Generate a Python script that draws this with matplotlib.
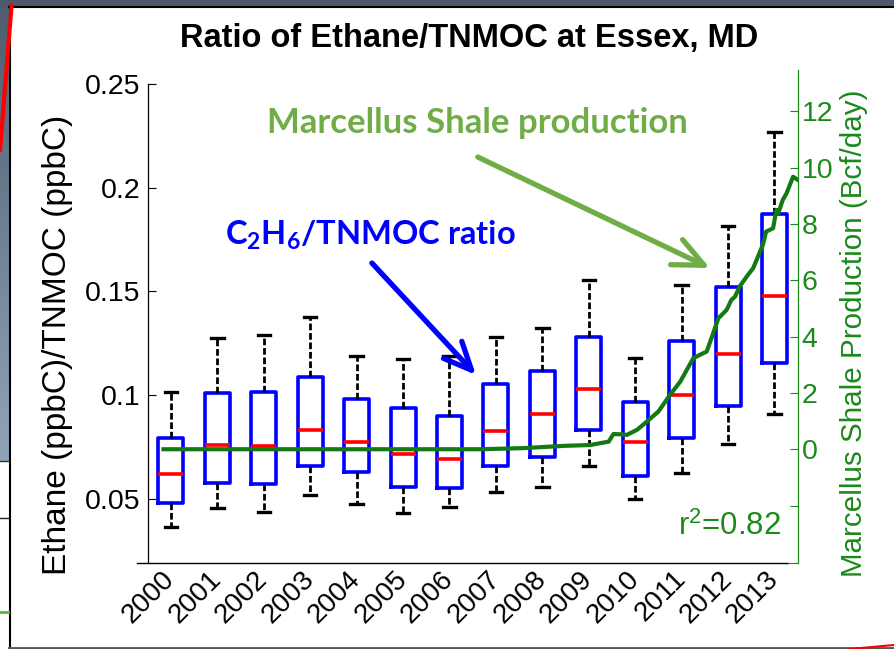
import matplotlib
matplotlib.use("Agg")
import matplotlib.pyplot as plt
from matplotlib.colors import LinearSegmentedColormap
from matplotlib.patches import Rectangle
import numpy as np

#######################################
#### Data
#######################################
years = [2000, 2001, 2002, 2003, 2004, 2005, 2006,
         2007, 2008, 2009, 2010, 2011, 2012, 2013]
year_labels = [str(y) for y in years]

# ethane / TNMOC ratio box statistics per year
whis_hi = [0.1014, 0.1278, 0.1289, 0.1379, 0.1191, 0.1175, 0.1189,
           0.1282, 0.1323, 0.1555, 0.1178, 0.1531, 0.1816, 0.2267]
q3      = [0.0793, 0.1012, 0.1017, 0.1087, 0.0980, 0.0937, 0.0900,
           0.1054, 0.1117, 0.1279, 0.0969, 0.1263, 0.1523, 0.1873]
med     = [0.0620, 0.0762, 0.0755, 0.0834, 0.0776, 0.0718, 0.0694,
           0.0826, 0.0908, 0.1030, 0.0776, 0.1001, 0.1199, 0.1478]
q1      = [0.0479, 0.0576, 0.0571, 0.0659, 0.0632, 0.0556, 0.0555,
           0.0659, 0.0704, 0.0833, 0.0611, 0.0793, 0.0948, 0.1154]
whis_lo = [0.0367, 0.0455, 0.0439, 0.0518, 0.0476, 0.0431, 0.0463,
           0.0534, 0.0559, 0.0659, 0.0500, 0.0624, 0.0764, 0.0910]

# Marcellus shale gas production (Bcf/day)
prod_year = [1999.84, 2001.0, 2002.0, 2003.0, 2004.0, 2005.0, 2006.0, 2006.67,
             2007.6, 2008.46, 2009.03, 2009.43, 2009.53, 2009.68, 2009.82,
             2010.04, 2010.25, 2010.5, 2010.75, 2010.97, 2011.25, 2011.39,
             2011.54, 2011.68, 2011.79, 2011.97, 2012.07, 2012.15, 2012.25,
             2012.4, 2012.54, 2012.75, 2012.82, 2012.97, 2013.04, 2013.08,
             2013.18, 2013.26, 2013.4, 2013.5]
prod_bcf = [0, 0, 0, 0, 0, 0, 0, 0,
            0.04, 0.12, 0.15, 0.27, 0.54, 0.53, 0.51,
            0.69, 0.98, 1.34, 1.93, 2.4, 3.23, 3.35,
            3.47, 4.12, 4.65, 4.95, 5.3, 5.42, 5.78,
            6.13, 6.43, 7.26, 7.73, 7.85, 8.5, 8.38,
            8.86, 9.09, 9.68, 9.57]

left_ticks = [0.05, 0.1, 0.15, 0.2, 0.25]
left_tick_labels = ['0.05', '0.1', '0.15', '0.2', '0.25']
right_ticks = [-2, 0, 2, 4, 6, 8, 10, 12]
right_tick_labels = ['', '0', '2', '4', '6', '8', '10', '12']

#######################################
#### Style
#######################################
plt.rcParams['font.family'] = 'Liberation Sans'
plt.rcParams['mathtext.fontset'] = 'custom'
plt.rcParams['mathtext.rm'] = 'Lato:bold'
plt.rcParams['mathtext.it'] = 'Lato:bold'
plt.rcParams['mathtext.bf'] = 'Lato:bold'
plt.rcParams['mathtext.sf'] = 'Liberation Sans'

W, H = 894, 649
green_ax = '#1a8a1a'
green_line = '#137a13'
office_green = '#70AD47'

fig = plt.figure(figsize=(W / 100, H / 100), dpi=100)

#### slide frame around the chart
bg = fig.add_axes([0, 0, 1, 1], zorder=-10)
cmap = LinearSegmentedColormap.from_list('strip', ['#4d5c6f', '#90a4b9'])
bg.imshow(np.linspace(0, 1, 100)[:, None], extent=(0, 9, 461, 0),
          cmap=cmap, aspect='auto')
bg.add_patch(Rectangle((0, 0), W, 5.5, color='#4b596b'))
bg.plot([9, W], [6.5, 6.5], color='black', lw=1.5)
bg.plot([9.5, 9.5], [6, H], color='black', lw=1.5)
bg.plot([0, 9], [461, 461], color='#333333', lw=1)
bg.plot([0, 8], [518, 518], color='#222222', lw=1)
bg.plot([0, 8], [612, 612], color='#5cb82e', lw=2)
bg.plot([11.5, 0], [6, 150], color='red', lw=3)
bg.plot([9, W], [648, 648], color='#555555', lw=2)
bg.plot([850, W], [649, 645], color='red', lw=1.5)
bg.set_xlim(0, W)
bg.set_ylim(H, 0)
bg.axis('off')

#######################################
#### Box plot (left axis)
#######################################
x0, x1 = 147.7, 797.7
ybot, ytop_l, ytop_r = 562.7, 84, 70
ax = fig.add_axes([x0 / W, 1 - ybot / H, (x1 - x0) / W, (ybot - ytop_l) / H])
ax.patch.set_visible(False)

stats = []
for i in range(len(years)):
   stats.append(dict(med=med[i], q1=q1[i], q3=q3[i],
                     whislo=whis_lo[i], whishi=whis_hi[i]))
ax.bxp(stats, positions=years, widths=0.54, showfliers=False,
       capwidths=0.27,
       boxprops=dict(color='blue', lw=2.6),
       medianprops=dict(color='red', lw=2.6, solid_capstyle='butt'),
       whiskerprops=dict(color='black', lw=2.0, linestyle=(0, (2.4, 1.0))),
       capprops=dict(color='black', lw=2.4))

ax.set_xlim(1999.5, 2013.5)
ax.set_ylim(0.0193, 0.25)
ax.set_yticks(left_ticks)
ax.set_yticklabels(left_tick_labels)
ax.set_xticks(years)
ax.set_xticklabels(year_labels, rotation=45, ha='right', va='center',
                   rotation_mode='anchor')
ax.tick_params(axis='y', direction='in', length=5.5, width=0.8,
               labelsize=20.5, pad=5)
ax.tick_params(axis='x', length=0, labelsize=20, pad=9)
for s in ['top', 'right']:
   ax.spines[s].set_visible(False)
ax.spines['left'].set_linewidth(0.9)
ax.spines['bottom'].set_linewidth(1.0)
ax.spines['bottom'].set_bounds(1999.276, 2013.29)

#######################################
#### Production (right axis)
#######################################
ax2 = fig.add_axes([x0 / W, 1 - ybot / H, (x1 - x0) / W, (ybot - ytop_r) / H])
ax2.patch.set_visible(False)
ax2.plot(prod_year, prod_bcf, color=green_line, lw=3, solid_joinstyle='round')
ax2.set_xlim(1999.5, 2013.5)
ax2.set_ylim(-4.03, 13.47)
ax2.yaxis.tick_right()
ax2.set_yticks(right_ticks)
ax2.set_yticklabels(right_tick_labels)
ax2.set_xticks([])
ax2.tick_params(axis='y', direction='in', length=5.5, width=0.8,
                labelsize=20.5, pad=3, colors=green_ax)
for s in ['top', 'left']:
   ax2.spines[s].set_visible(False)
ax2.spines['right'].set_color(green_ax)
ax2.spines['right'].set_linewidth(0.9)
ax2.spines['bottom'].set_color(green_ax)
ax2.spines['bottom'].set_bounds(2013.29, 2013.5)

#######################################
#### Labels and annotations
#######################################
fig.text(469 / W, 1 - 46.7 / H, 'Ratio of Ethane/TNMOC at Essex, MD',
         ha='center', va='baseline', fontsize=23.5, fontweight='bold')
fig.text(57.5 / W, 1 - 345 / H, 'Ethane (ppbC)/TNMOC (ppbC)', rotation=90,
         ha='center', va='center', fontsize=24)
fig.text(854 / W, 1 - 333 / H, 'Marcellus Shale Production (Bcf/day)',
         rotation=90, ha='center', va='center', fontsize=21.3, color=green_ax)
fig.text(781.7 / W, 1 - 535 / H, r'r$^\mathsf{2}$=0.82', ha='right',
         va='baseline', fontsize=22.5, color=green_ax)

fig.text(267 / W, 1 - 133 / H, 'Marcellus Shale production',
         ha='left', va='baseline', fontsize=25, fontweight='bold',
         family='Lato', color=office_green)
fig.text(225 / W, 1 - 245 / H, 'C$_2$H$_6$/TNMOC ratio',
         ha='left', va='baseline', fontsize=23.5, fontweight='bold',
         family='Lato', color='blue')

ax.annotate('', xy=(2011.61, 0.1613), xytext=(2006.61, 0.2148),
            annotation_clip=False,
            arrowprops=dict(arrowstyle='->,head_length=1.1,head_width=0.5',
                            color=office_green, lw=3.8, mutation_scale=20,
                            shrinkA=0, shrinkB=0))
ax.annotate('', xy=(2006.57, 0.1098), xytext=(2004.33, 0.1637),
            annotation_clip=False,
            arrowprops=dict(arrowstyle='->,head_length=1.0,head_width=0.45',
                            color='blue', lw=3.8, mutation_scale=20,
                            shrinkA=0, shrinkB=0))

fig.savefig('out.png', dpi=100)
